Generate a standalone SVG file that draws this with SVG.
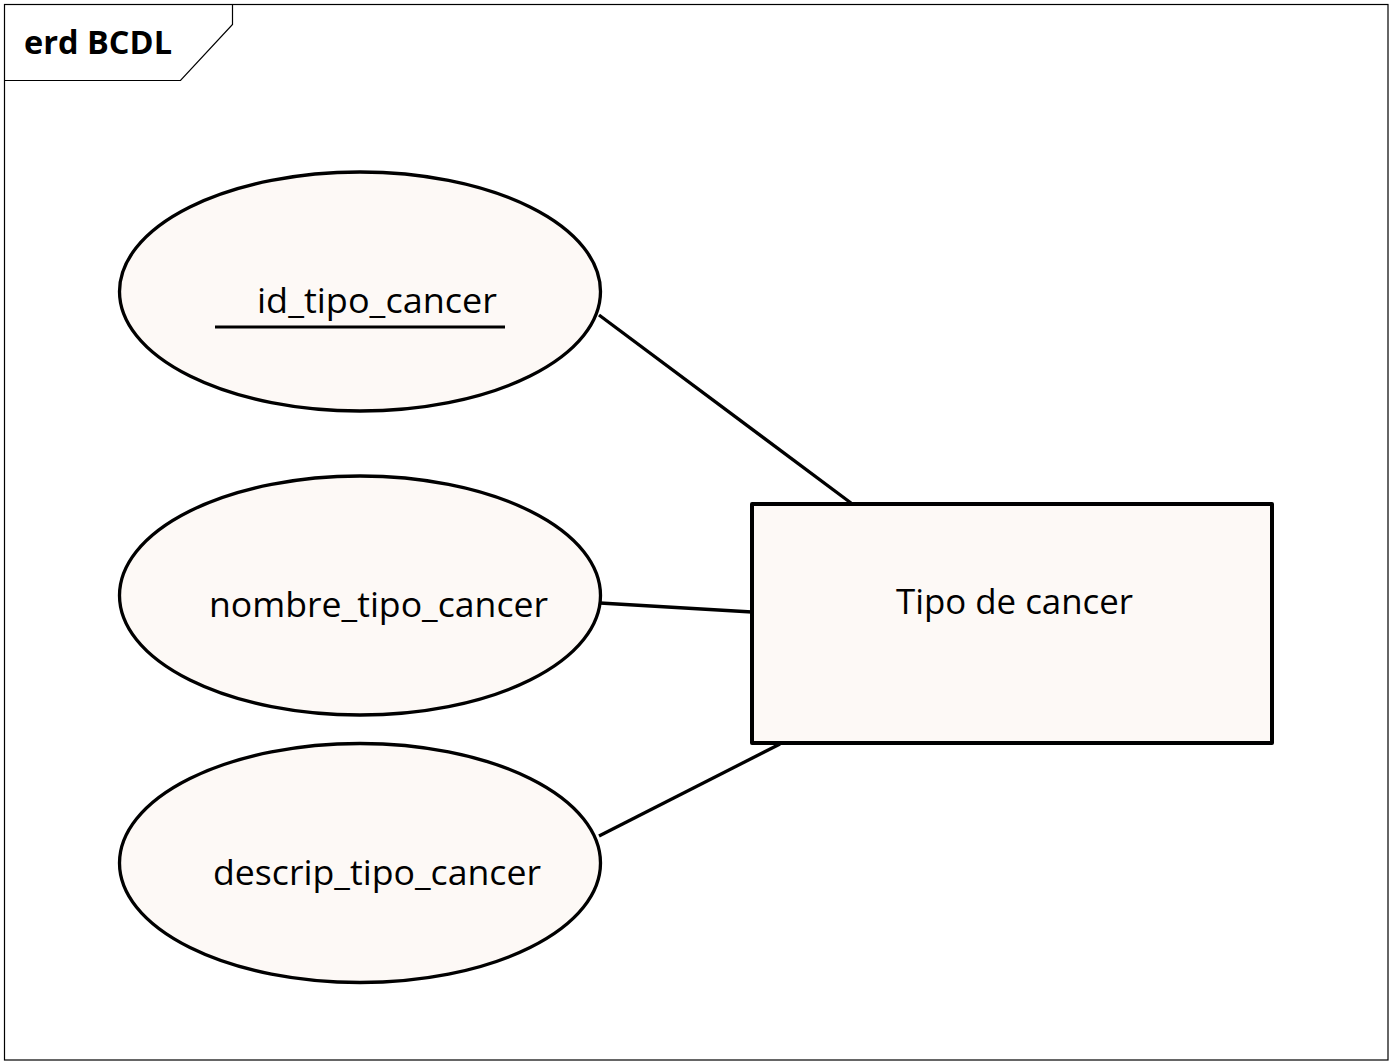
<svg xmlns="http://www.w3.org/2000/svg" width="1392" height="1064" viewBox="0 0 1392 1064">
<style>
.frame{fill:#ffffff;stroke:#000;stroke-width:1.2}
.attr{fill:#fdf9f6;stroke:#000;stroke-width:3.3}
.ent{fill:#fdf9f6;stroke:#000;stroke-width:4;stroke-linejoin:round}
.conn{stroke:#000;stroke-width:3.3;fill:none}
.lbl{font-family:"Open Sans","Noto Sans","DejaVu Sans",sans-serif;font-size:35px;fill:#000}
.title{font-family:"Open Sans","Noto Sans","DejaVu Sans",sans-serif;font-size:32.5px;font-weight:bold;fill:#000}
</style>
<rect width="1392" height="1064" fill="#fff"/>
<g id="frame">
<rect class="frame" x="4.5" y="4.5" width="1383.5" height="1055.5"/>
<path d="M4.5 80.5 H180.5 L232.5 24.5 V4.5" fill="none" stroke="#000" stroke-width="1.2"/>
<text class="title" x="24" y="54" textLength="148" lengthAdjust="spacingAndGlyphs">erd BCDL</text>
</g>
<g id="connectors">
<line class="conn" x1="599" y1="315" x2="851" y2="503"/>
<line class="conn" x1="600" y1="603" x2="752" y2="612"/>
<line class="conn" x1="599" y1="836" x2="780" y2="744"/>
</g>
<g id="id_tipo_cancer">
<ellipse class="attr" cx="360" cy="291.5" rx="240.5" ry="119.5"/>
<text class="lbl" x="257" y="313" textLength="240" lengthAdjust="spacingAndGlyphs">id_tipo_cancer</text>
<line x1="215" y1="327" x2="505" y2="327" stroke="#000" stroke-width="3"/>
</g>
<g id="nombre_tipo_cancer">
<ellipse class="attr" cx="360" cy="595.5" rx="240.5" ry="119.5"/>
<text class="lbl" x="209" y="617" textLength="339" lengthAdjust="spacingAndGlyphs">nombre_tipo_cancer</text>
</g>
<g id="descrip_tipo_cancer">
<ellipse class="attr" cx="360" cy="863" rx="240.5" ry="119.5"/>
<text class="lbl" x="213" y="885" textLength="328" lengthAdjust="spacingAndGlyphs">descrip_tipo_cancer</text>
</g>
<g id="tipo_de_cancer">
<rect class="ent" x="752" y="504" width="520" height="239"/>
<text class="lbl" x="896" y="614" textLength="237" lengthAdjust="spacingAndGlyphs">Tipo de cancer</text>
</g>
</svg>
